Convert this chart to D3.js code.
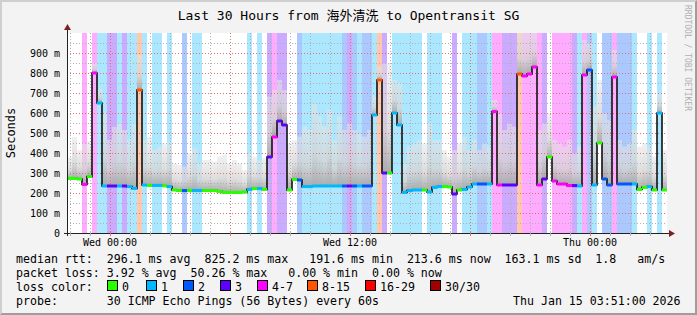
<!DOCTYPE html>
<html>
<head>
<meta charset="utf-8">
<script src="https://cdn.jsdelivr.net/npm/d3@7"></script>
<style>
  body { margin: 0; background: #f0f0f0; }
  svg text { font-family: "DejaVu Sans Mono", "Noto Sans CJK SC", monospace; white-space: pre; fill: #000; }
</style>
</head>
<body>
<div id="chart"></div>
<script>
// 15 minute buckets, Tue 21:51 -> Thu 03:51
const startTime = new Date(2026, 0, 13, 21, 51)
const endTime = new Date(2026, 0, 15, 3, 51)
const stepMinutes = 15

// median rtt in ms for each bucket
const medianMs = [
  273, 273, 270, 243, 282, 800, 650, 235, 235, 235, 235, 235, 232, 223, 715, 240, 238, 238, 238, 236,
  232, 215, 212, 212, 212, 212, 212, 212, 212, 212, 208, 203, 203, 203, 203, 205, 218, 222, 222, 218,
  380, 480, 560, 540, 215, 268, 265, 232, 232, 235, 235, 235, 235, 235, 235, 235, 235, 235, 235, 235,
  235, 590, 765, 300, 300, 600, 540, 203, 212, 215, 215, 215, 205, 228, 232, 232, 230, 195, 215, 218,
  230, 245, 245, 245, 245, 607, 240, 240, 240, 240, 795, 785, 795, 830, 240, 270, 380, 260, 245, 245,
  237, 237, 235, 790, 815, 240, 450, 270, 240, 780, 245, 245, 245, 245, 218, 228, 232, 215, 600, 215
]

// lost pings (out of 30) for each bucket
const lostPings = [
  0, 0, 0, 5, 0, 5, 1, 1, 3, 3, 1, 3, 1, 1, 10, 1, 0, 1, 1, 0,
  1, 0, 0, 2, 0, 1, 1, 0, 0, 0, 0, 0, 0, 0, 0, 0, 1, 0, 1, 0,
  3, 5, 3, 3, 0, 0, 2, 1, 1, 1, 1, 1, 1, 1, 1, 2, 3, 2, 1, 2,
  2, 1, 10, 3, 0, 1, 1, 1, 1, 1, 1, 0, 1, 1, 1, 0, 0, 3, 0, 1,
  1, 1, 2, 2, 1, 5, 5, 3, 3, 3, 10, 5, 5, 5, 5, 3, 0, 5, 5, 5,
  5, 3, 1, 5, 2, 1, 0, 2, 2, 5, 2, 2, 2, 1, 0, 0, 1, 0, 1, 0
]

// top of the smoke (slowest ping) in ms for each bucket
const smokeMaxMs = [
  380, 480, 415, 448, 460, 850, 720, 600, 465, 530, 548, 515, 465, 548, 890, 465, 482, 415, 430, 448,
  457, 348, 340, 332, 398, 423, 348, 365, 365, 357, 382, 390, 348, 365, 348, 315, 398, 382, 365, 373,
  682, 715, 765, 715, 448, 465, 482, 532, 515, 648, 582, 532, 615, 465, 582, 515, 548, 515, 498, 482,
  515, 682, 832, 848, 848, 765, 750, 348, 432, 448, 465, 448, 548, 465, 465, 415, 382, 415, 448, 482,
  415, 465, 415, 448, 432, 665, 598, 515, 548, 532, 1000, 1000, 1000, 1000, 515, 548, 598, 465, 448, 432,
  465, 398, 432, 965, 948, 632, 765, 598, 565, 915, 465, 432, 448, 515, 432, 448, 432, 382, 700, 415
]

const lossLabels = ["0", "1", "2", "3", "4-7", "8-15", "16-29", "30/30"]
const lossColors = ["#26ff00", "#00b8ff", "#0059ff", "#5e00ff", "#ff00ff", "#ff5500", "#ff0000", "#a10000"]

const yTickValues = [0, 100, 200, 300, 400, 500, 600, 700, 800, 900]

const legendRows = [
  "median rtt:  296.1 ms avg  825.2 ms max   191.6 ms min  213.6 ms now  163.1 ms sd  1.8   am/s",
  "packet loss: 3.92 % avg  50.26 % max   0.00 % min  0.00 % now",
  "loss color:",
  "probe:       30 ICMP Echo Pings (56 Bytes) every 60s"
]
const stampText = "Thu Jan 15 03:51:00 2026"
const titleText = "Last 30 Hours from 海外清洗 to Opentransit SG"

// ---- layout
const width = 697, height = 315
const plot = {left: 67, right: 667, top: 33, bottom: 233}

const svg = d3.select("#chart").append("svg")
    .attr("width", width)
    .attr("height", height)

// frame with shading
svg.append("rect").attr("width", width).attr("height", height).attr("fill", "#9e9e9e")
svg.append("path").attr("d", `M0,0H${width}L${width - 2},2H2V${height - 2}L0,${height}Z`).attr("fill", "#cfcfcf")
svg.append("rect").attr("x", 2).attr("y", 2).attr("width", width - 4).attr("height", height - 4).attr("fill", "#f3f3f3")

const x = d3.scaleTime().domain([startTime, endTime]).range([plot.left, plot.right])
const y = d3.scaleLinear().domain([0, 1000]).range([plot.bottom, plot.top])
const lossColor = d3.scaleThreshold().domain([1, 2, 3, 4, 8, 16, 30]).range(lossColors)

const buckets = medianMs.map((m, i) => ({
    t0: d3.timeMinute.offset(startTime, i * stepMinutes),
    t1: d3.timeMinute.offset(startTime, (i + 1) * stepMinutes),
    median: m,
    lost: lostPings[i],
    smoke: smokeMaxMs[i]
}))

// canvas
svg.append("rect")
    .attr("x", plot.left).attr("y", plot.top)
    .attr("width", plot.right - plot.left).attr("height", plot.bottom - plot.top)
    .attr("fill", "#fff")

// loss background
svg.append("g").selectAll("rect")
    .data(buckets.filter(d => d.lost > 0))
    .join("rect")
    .attr("x", d => x(d.t0))
    .attr("width", d => x(d.t1) - x(d.t0))
    .attr("y", plot.top)
    .attr("height", plot.bottom - plot.top)
    .attr("fill", d => lossColor(d.lost))
    .attr("fill-opacity", 0.33)

// smoke gradient
const grad = svg.append("defs").append("linearGradient")
    .attr("id", "smoke").attr("x1", 0).attr("x2", 0).attr("y1", 0).attr("y2", 1)
grad.append("stop").attr("offset", "0%").attr("stop-color", "#e4e4e4").attr("stop-opacity", 0.55)
grad.append("stop").attr("offset", "60%").attr("stop-color", "#d4d4d4").attr("stop-opacity", 0.8)
grad.append("stop").attr("offset", "100%").attr("stop-color", "#a8a8a8").attr("stop-opacity", 0.95)

svg.append("g").selectAll("rect")
    .data(buckets)
    .join("rect")
    .attr("x", d => x(d.t0))
    .attr("width", d => x(d.t1) - x(d.t0))
    .attr("y", d => y(d.smoke))
    .attr("height", d => y(d.median) - y(d.smoke))
    .attr("fill", "url(#smoke)")

// grid
const grid = svg.append("g")
const minorY = d3.range(50, 1000, 50).filter(v => v % 100 !== 0)
grid.selectAll(".hmin").data(minorY).join("line")
    .attr("x1", plot.left).attr("x2", plot.right)
    .attr("y1", d => y(d) + 0.5).attr("y2", d => y(d) + 0.5)
    .attr("stroke", "#b0b0b0").attr("stroke-dasharray", "1,2")
grid.selectAll(".hmaj").data(yTickValues.slice(1)).join("line")
    .attr("x1", plot.left).attr("x2", plot.right)
    .attr("y1", d => y(d) + 0.5).attr("y2", d => y(d) + 0.5)
    .attr("stroke", "#e07070").attr("stroke-dasharray", "1,2")

const hours = d3.timeHour.range(startTime, endTime)
grid.selectAll(".v").data(hours).join("line")
    .attr("x1", d => Math.round(x(d)) + 0.5).attr("x2", d => Math.round(x(d)) + 0.5)
    .attr("y1", plot.top).attr("y2", plot.bottom)
    .attr("stroke", d => d.getHours() % 6 === 0 ? "#e07070" : "#b0b0b0")
    .attr("stroke-dasharray", "1,2")

// median line
const stepPoints = buckets.map(d => [d.t0, d.median])
stepPoints.push([endTime, medianMs[medianMs.length - 1]])
svg.append("path")
    .datum(stepPoints)
    .attr("fill", "none")
    .attr("stroke", "#111")
    .attr("stroke-width", 1.6)
    .attr("d", d3.line().x(d => x(d[0])).y(d => y(d[1])).curve(d3.curveStepAfter))

svg.append("g").selectAll("line")
    .data(buckets)
    .join("line")
    .attr("x1", d => x(d.t0)).attr("x2", d => x(d.t1))
    .attr("y1", d => y(d.median)).attr("y2", d => y(d.median))
    .attr("stroke", d => lossColor(d.lost))
    .attr("stroke-width", 3)

// axes
const axisColor = "#222"
const arrowColor = "#7f1f1f"
svg.append("line").attr("x1", plot.left - 3).attr("x2", plot.right + 3)
    .attr("y1", plot.bottom + 0.5).attr("y2", plot.bottom + 0.5).attr("stroke", axisColor)
svg.append("line").attr("x1", plot.left + 0.5).attr("x2", plot.left + 0.5)
    .attr("y1", plot.bottom + 3).attr("y2", plot.top - 5).attr("stroke", axisColor)
svg.append("path").attr("d", `M${plot.right + 2},${plot.bottom - 3}L${plot.right + 8},${plot.bottom + 0.5}L${plot.right + 2},${plot.bottom + 4}Z`).attr("fill", arrowColor)
svg.append("path").attr("d", `M${plot.left - 3},${plot.top - 3}L${plot.left + 0.5},${plot.top - 9}L${plot.left + 4},${plot.top - 3}Z`).attr("fill", arrowColor)

svg.append("g").selectAll("line").data(hours).join("line")
    .attr("x1", d => Math.round(x(d)) + 0.5).attr("x2", d => Math.round(x(d)) + 0.5)
    .attr("y1", plot.bottom - 2).attr("y2", plot.bottom + 3)
    .attr("stroke", d => d.getHours() % 6 === 0 ? "#e07070" : "#b0b0b0")

svg.append("g").selectAll("text")
    .data(yTickValues)
    .join("text")
    .attr("x", plot.left - 7)
    .attr("y", d => y(d) + 4)
    .attr("text-anchor", "end")
    .style("font-size", "10px")
    .text(d => d === 0 ? "0" : d + " m")

const xLabels = d3.timeHour.every(12).range(startTime, endTime)
svg.append("g").selectAll("text")
    .data(xLabels)
    .join("text")
    .attr("x", d => x(d))
    .attr("y", 246)
    .attr("text-anchor", "middle")
    .style("font-size", "10px")
    .text(d3.timeFormat("%a %H:%M"))

// title and side texts
svg.append("text").attr("x", width / 2).attr("y", 20).attr("text-anchor", "middle")
    .style("font-size", "13px").text(titleText)
svg.append("text").attr("transform", "translate(15,133) rotate(-90)").attr("text-anchor", "middle")
    .style("font-size", "12px").text("Seconds")
svg.append("text").attr("transform", "translate(685,5) rotate(90)")
    .style("font-size", "8px").style("fill", "#b0b0b0").text("RRDTOOL / TOBI OETIKER")

// legend
const rowY = [263, 277, 291, 305]
svg.append("g").selectAll("text")
    .data(legendRows)
    .join("text")
    .attr("x", 16)
    .attr("y", (d, i) => rowY[i])
    .style("font-size", "11.6px")
    .text(d => d)

svg.append("text").attr("x", 513).attr("y", rowY[3]).style("font-size", "11.6px").text(stampText)

const boxX = [107, 146, 183, 220, 257, 307, 365, 430]
const key = svg.append("g").selectAll("g")
    .data(lossLabels)
    .join("g")
    .attr("transform", (d, i) => `translate(${boxX[i]},${rowY[2] - 11})`)
key.append("rect").attr("x", 0.5).attr("y", 0.5).attr("width", 10).attr("height", 10)
    .attr("fill", (d, i) => lossColors[i]).attr("stroke", "#000")
key.append("text").attr("x", 15).attr("y", 11).style("font-size", "11.6px").text(d => d)
</script>
</body>
</html>
